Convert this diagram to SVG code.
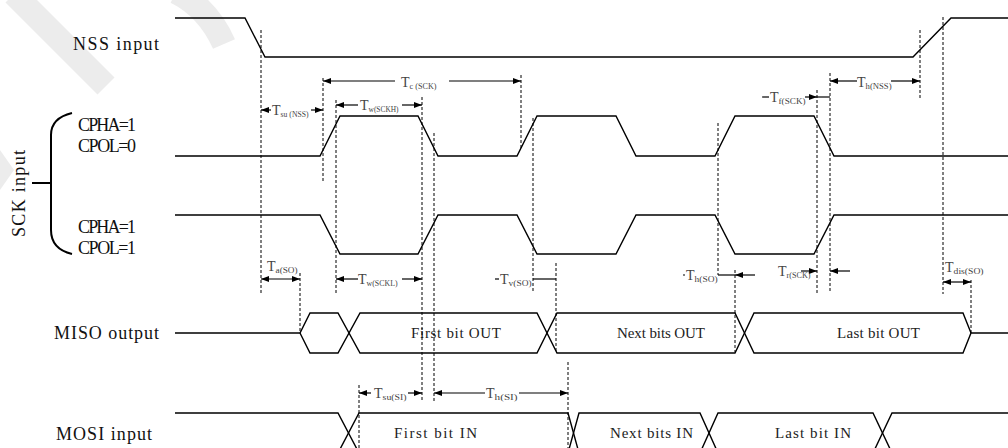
<svg xmlns="http://www.w3.org/2000/svg" width="1008" height="448" viewBox="0 0 1008 448">
<style>
.sig{stroke:#000;stroke-width:1.4;fill:none}
.dash{stroke:#000;stroke-width:1;stroke-dasharray:3 2;fill:none}
.dim{stroke:#000;stroke-width:1.2;fill:none}
.lbl{font-family:"Liberation Serif",serif;font-size:18px;fill:#111}
.data{font-family:"Liberation Serif",serif;font-size:15px;fill:#222}
.t{font-family:"Liberation Serif",serif;font-size:14px;fill:#444}
.sub{font-size:9px}
.wm{stroke:#ececec;stroke-width:24;fill:none}
</style>
<defs>
<marker id="ah" viewBox="0 0 8 6" refX="8" refY="3" markerWidth="8" markerHeight="6" markerUnits="userSpaceOnUse" orient="auto-start-reverse">
<path d="M0 0 L8 3 L0 6 z" fill="#000"/>
</marker>
</defs>
<rect width="1008" height="448" fill="#fff"/>
<g id="watermark">
<path class="wm" d="M14 -6 L106 86"/>
<path class="wm" d="M176 -8 Q208 8 224 44"/>
<path d="M0 150 L14 170 L0 190 z" fill="#ececec"/>
</g>
<g id="labels">
<text class="lbl" x="73" y="50" textLength="86" lengthAdjust="spacing">NSS input</text>
<text class="lbl" x="78" y="131" textLength="58" lengthAdjust="spacing">CPHA=1</text>
<text class="lbl" x="78" y="152" textLength="58" lengthAdjust="spacing">CPOL=0</text>
<text class="lbl" x="78" y="233" textLength="58" lengthAdjust="spacing">CPHA=1</text>
<text class="lbl" x="78" y="254" textLength="58" lengthAdjust="spacing">CPOL=1</text>
<text class="lbl" transform="translate(25 237) rotate(-90)" x="0" y="0" textLength="87" lengthAdjust="spacing">SCK input</text>
<text class="lbl" x="54" y="339" textLength="105" lengthAdjust="spacing">MISO output</text>
<text class="lbl" x="56" y="440" textLength="96" lengthAdjust="spacing">MOSI input</text>
<path d="M72 113 Q51 118 51 135 V230 Q51 249 72 254 M32 183 H51" stroke="#000" stroke-width="2" fill="none"/>
</g>
<g id="nss"><path class="sig" d="M175 18 H245 L265 57 H913 L951 18 H1008"/></g>
<g id="sck">
<path class="sig" d="M175 156 H320 L340 116 H418 L438 156 H517 L537 116 H616 L636 156 H715 L735 116 H814 L834 156 H1008"/>
<path class="sig" d="M175 215 H320 L340 254 H418 L438 215 H517 L537 254 H616 L636 215 H715 L735 254 H814 L834 215 H1008"/>
</g>
<g id="miso">
<path class="sig" d="M175 333 H300 L310 313 H338 L360 353 H537 L557 313 H735 L754 353 H963 L971 333 H1008"/>
<path class="sig" d="M300 333 L310 353 H338 L360 313 H537 L557 353 H735 L754 313 H963 L971 333"/>
<text class="data" x="411" y="338" textLength="90" lengthAdjust="spacing">First bit OUT</text>
<text class="data" x="617" y="338" textLength="88" lengthAdjust="spacing">Next bits OUT</text>
<text class="data" x="837" y="338" textLength="83" lengthAdjust="spacing">Last bit OUT</text>
</g>
<g id="mosi">
<path class="sig" d="M175 413 H338 L359 453 H568 L579 413 H700 L718 453 H873 L892 413 H1008"/>
<path class="sig" d="M175 453 H338 L359 413 H568 L579 453 H700 L718 413 H873 L892 453 H1008"/>
<text class="data" x="394" y="438" textLength="83" lengthAdjust="spacing">First bit IN</text>
<text class="data" x="610" y="438" textLength="83" lengthAdjust="spacing">Next bits IN</text>
<text class="data" x="775" y="438" textLength="76" lengthAdjust="spacing">Last bit IN</text>
</g>
<g id="guides">
<path class="dash" d="M261 30 V295 M300 273 V333 M323 78 V183 M336 100 V293 M359 385 V448 M422 97 V401 M434 133 V401 M521 75 V148 M533 118 V293 M556 263 V352 M568 362 V448 M718 123 V275 M735 270 V352 M817 90 V293 M830 73 V293 M920 30 V100 M943 17 V294 M971 280 V333"/>
</g>
<g id="connectors">
<path class="dim" d="M261 110 H271" marker-start="url(#ah)"/>
<path class="dim" d="M311 110 H323" marker-end="url(#ah)"/>
<path class="dim" d="M323 81 H395" marker-start="url(#ah)"/>
<path class="dim" d="M449 81 H521" marker-end="url(#ah)"/>
<path class="dim" d="M336 105 H358" marker-start="url(#ah)"/>
<path class="dim" d="M402 105 H422" marker-end="url(#ah)"/>
<path class="dim" d="M830 81 H857" marker-start="url(#ah)"/>
<path class="dim" d="M891 81 H920" marker-end="url(#ah)"/>
<path class="dim" d="M762 97 H769"/>
<path class="dim" d="M805 97 H817" marker-end="url(#ah)"/>
<path class="dim" d="M817 97 H830"/>
<path class="dim" d="M261 279 H300" marker-start="url(#ah)" marker-end="url(#ah)"/>
<path class="dim" d="M336 279 H358" marker-start="url(#ah)"/>
<path class="dim" d="M402 279 H422" marker-end="url(#ah)"/>
<path class="dim" d="M495 279 H499"/>
<path class="dim" d="M533 279 H556"/>
<path class="dim" d="M683 275 H685"/>
<path class="dim" d="M718 275 H735"/>
<path class="dim" d="M755 275 H735" marker-end="url(#ah)"/>
<path class="dim" d="M801 271 H817" marker-end="url(#ah)"/>
<path class="dim" d="M850 271 H830" marker-end="url(#ah)"/>
<path class="dim" d="M943 282 H971" marker-start="url(#ah)" marker-end="url(#ah)"/>
<path class="dim" d="M359 393 H371" marker-start="url(#ah)"/>
<path class="dim" d="M408 393 H422" marker-end="url(#ah)"/>
<path class="dim" d="M434 393 H485" marker-start="url(#ah)"/>
<path class="dim" d="M519 393 H568" marker-end="url(#ah)"/>
</g>
<g id="timing-labels">
<text class="t" x="272" y="115">T<tspan class="sub" dy="2" textLength="28" lengthAdjust="spacingAndGlyphs">su (NSS)</tspan></text>
<text class="t" x="401" y="87">T<tspan class="sub" dy="2" textLength="27" lengthAdjust="spacingAndGlyphs">c (SCK)</tspan></text>
<text class="t" x="360" y="110">T<tspan class="sub" dy="2" textLength="30" lengthAdjust="spacingAndGlyphs">w(SCKH)</tspan></text>
<text class="t" x="857" y="87">T<tspan class="sub" dy="2" textLength="26" lengthAdjust="spacingAndGlyphs">h(NSS)</tspan></text>
<text class="t" x="770" y="102">T<tspan class="sub" dy="2" textLength="27" lengthAdjust="spacingAndGlyphs">f(SCK)</tspan></text>
<text class="t" x="267" y="271">T<tspan class="sub" dy="2" textLength="22" lengthAdjust="spacingAndGlyphs">a(SO)</tspan></text>
<text class="t" x="358" y="284">T<tspan class="sub" dy="2" textLength="31" lengthAdjust="spacingAndGlyphs">w(SCKL)</tspan></text>
<text class="t" x="500" y="284">T<tspan class="sub" dy="2" textLength="23" lengthAdjust="spacingAndGlyphs">v(SO)</tspan></text>
<text class="t" x="686" y="280">T<tspan class="sub" dy="2" textLength="23" lengthAdjust="spacingAndGlyphs">h(SO)</tspan></text>
<text class="t" x="778" y="276">T<tspan class="sub" dy="2" textLength="24" lengthAdjust="spacingAndGlyphs">r(SCK)</tspan></text>
<text class="t" x="945" y="272">T<tspan class="sub" dy="2" textLength="30" lengthAdjust="spacingAndGlyphs">dis(SO)</tspan></text>
<text class="t" x="374" y="398">T<tspan class="sub" dy="2" textLength="24" lengthAdjust="spacingAndGlyphs">su(SI)</tspan></text>
<text class="t" x="486" y="398">T<tspan class="sub" dy="2" textLength="23" lengthAdjust="spacingAndGlyphs">h(SI)</tspan></text>
</g>
</svg>
